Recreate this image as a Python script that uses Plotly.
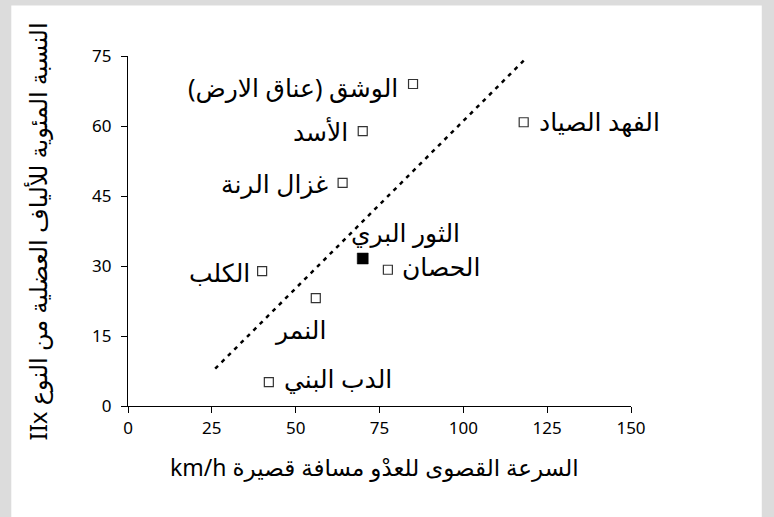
import plotly.graph_objects as go

# Species, top sprint speed (km/h) and share of type IIx muscle fibres (%)
animals = [
    "الوشق (عناق الارض)",
    "الفهد الصياد",
    "الأسد",
    "غزال الرنة",
    "الثور البري",
    "الحصان",
    "الكلب",
    "النمر",
    "الدب البني",
]
speed_kmh = [85, 118, 70, 64, 70, 77.5, 40, 56, 42]
fiber_iix_pct = [69, 60.8, 58.9, 47.8, 31.6, 29.2, 28.9, 23.1, 5.1]
highlighted = "الثور البري"

# Trend line end points
trend_x = [26, 118]
trend_y = [8, 74]

x_ticks = [0, 25, 50, 75, 100, 125, 150]
y_ticks = [0, 15, 30, 45, 60, 75]

x_title = "السرعة القصوى للعدْو مسافة قصيرة km/h"
y_title = "النسبة المئوية للألياف العضلية من النوع IIx"

FONT = "Noto Sans, DejaVu Sans, sans-serif"


def rtl(s):
    # right-to-left embedding so mixed Arabic/Latin text reads correctly
    return "\u202b" + s + "\u202c"


# label placement around each marker: (xanchor, xshift px, yshift px)
label_place = {
    "الوشق (عناق الارض)": ("right", -13, -3),
    "الفهد الصياد": ("left", 13, 1),
    "الأسد": ("right", -13, 0),
    "غزال الرنة": ("right", -13, 0),
    "الثور البري": ("left", -14, 27),
    "الحصان": ("left", 12, 4),
    "الكلب": ("right", -10, -1),
    "النمر": ("center", -16, -31),
    "الدب البني": ("left", 13, 4),
}

open_x = [sx for a, sx in zip(animals, speed_kmh) if a != highlighted]
open_y = [sy for a, sy in zip(animals, fiber_iix_pct) if a != highlighted]
hl_x = [sx for a, sx in zip(animals, speed_kmh) if a == highlighted]
hl_y = [sy for a, sy in zip(animals, fiber_iix_pct) if a == highlighted]

fig = go.Figure()

fig.add_trace(go.Scatter(
    x=trend_x, y=trend_y, mode="lines",
    line=dict(color="black", width=2.5, dash="4px,5px"),
    hoverinfo="skip", showlegend=False,
))

fig.add_trace(go.Scatter(
    x=open_x, y=open_y, mode="markers",
    marker=dict(symbol="square-open", size=9, color="#333333",
                line=dict(width=1.2, color="#333333")),
    hoverinfo="x+y", showlegend=False,
))

fig.add_trace(go.Scatter(
    x=hl_x, y=hl_y, mode="markers",
    marker=dict(symbol="square", size=11, color="#000000", opacity=1,
                line=dict(width=0.5, color="#000000")),
    hoverinfo="x+y", showlegend=False,
))

for name, sx, sy in zip(animals, speed_kmh, fiber_iix_pct):
    anchor, dx, dy = label_place[name]
    fig.add_annotation(
        x=sx, y=sy, xref="x", yref="y", text=rtl(name), showarrow=False,
        xanchor=anchor, yanchor="middle", xshift=dx, yshift=dy,
        font=dict(family=FONT, size=25, color="black"),
    )

# axis titles
fig.add_annotation(
    x=0.49, y=-0.175, xref="paper", yref="paper", text=rtl(x_title),
    showarrow=False, xanchor="center", yanchor="middle",
    font=dict(family=FONT, size=23, color="black"),
)
fig.add_annotation(
    x=-0.18, y=0.5, xref="paper", yref="paper", text=rtl(y_title),
    showarrow=False, xanchor="center", yanchor="middle", textangle=-90,
    font=dict(family=FONT, size=24, color="black"),
)

# white panel on grey page
fig.add_shape(
    type="rect", xref="paper", yref="paper",
    x0=-0.232, x1=1.26, y0=-0.33, y1=1.144,
    fillcolor="white", line=dict(width=0), layer="below",
)

axis_common = dict(
    showgrid=False, zeroline=False, showline=True, linecolor="black",
    linewidth=1.3, ticks="outside", ticklen=6, tickwidth=1.3, tickcolor="black",
    tickfont=dict(family=FONT, size=17, color="black"),
)

fig.update_xaxes(range=[0, 150], tickvals=x_ticks, **axis_common)
fig.update_yaxes(range=[0, 75], tickvals=y_ticks, ticklabelstandoff=6, **axis_common)

fig.update_layout(
    width=774, height=517,
    margin=dict(l=128, r=143, t=56, b=111),
    paper_bgcolor="#dcdcdc", plot_bgcolor="white",
    showlegend=False,
)

fig.write_html("out.html")
